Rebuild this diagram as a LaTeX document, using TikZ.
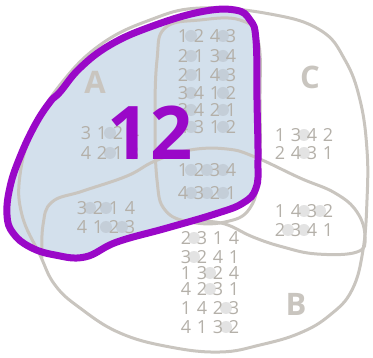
\documentclass[tikz,border=0pt]{standalone}
\usepackage{fontspec}
\setsansfont{Open Sans}
\usepackage{xcolor}
\usepackage{tikz}
\definecolor{penpurple}{RGB}{154,8,200}
\definecolor{paleblue}{RGB}{211,224,236}
\definecolor{pencil}{RGB}{201,197,191}
\definecolor{ink}{RGB}{180,176,169}
\definecolor{smudgeblue}{RGB}{196,206,216}
\definecolor{smudge}{RGB}{227,227,227}
\newcommand{\perm}[4]{\makebox[16pt]{#1}\makebox[16pt]{#2}\makebox[16pt]{#3}\makebox[16pt]{#4}}

\begin{document}
\begin{tikzpicture}[x=1pt,y=-1pt,
    outline/.style={pencil,line width=3pt,line cap=round},
    perm/.style={ink,inner sep=0pt,font=\sffamily\fontsize{18}{18}\selectfont},
    setname/.style={pencil,font=\sffamily\bfseries\fontsize{31}{31}\selectfont}]
    \useasboundingbox (0,0) rectangle (373,358);
    \fill[paleblue] plot[smooth cycle,tension=0.7] coordinates {(60,92) (80,68) (110,45) (150,27) (200,12) (235,10) (250,20) (256,40) (257,100) (258,160) (256,188) (243,203) (215,214) (167,228) (117,242) (85,257) (55,255) (30,247) (13,233) (7,215) (10,187) (20,157) (35,125) (50,102)};
    \draw[outline] plot[smooth cycle,tension=0.7] coordinates {(200,8) (270,14) (320,30) (345,60) (360,100) (367,150) (367,200) (363,250) (352,290) (330,315) (300,333) (260,345) (220,352) (170,347) (120,333) (80,308) (55,285) (40,255) (22,215) (20,175) (33,130) (60,85) (100,45) (150,20)};
    \draw[outline] plot[smooth cycle,tension=0.7] coordinates {(165,28) (200,20) (240,20) (258,40) (260,100) (259,170) (250,208) (225,222) (190,222) (165,210) (157,180) (155,120) (157,60)};
    \draw[outline] plot[smooth,tension=0.7] coordinates {(42,258) (43,225) (52,202) (83,191) (127,176) (155,161) (190,150) (227,149) (255,157) (300,178) (335,193) (357,212) (365,237) (357,252) (317,254) (283,247) (253,237) (225,224) (200,221)};
    \foreach \p/\y/\d [count=\i] in {1243/36/{-16,16},2134/56/{-16,16},2143/75/{-16,16},3412/93/{-16,16},3421/110/{-16,16},4312/127/{-16,16}} {
      \foreach \dx in \d \fill[smudgeblue] (207+\dx,\y) circle (6pt);
      \node[perm] (ac\i) at (207,\y) {\expandafter\perm\p};
    }
    \foreach \p/\y/\d [count=\i] in {1234/170/{-16,0,16},4321/193/{-16,0,16}} {
      \foreach \dx in \d \fill[smudgeblue] (207+\dx,\y) circle (6pt);
      \node[perm] (abc\i) at (207,\y) {\expandafter\perm\p};
    }
    \foreach \p/\y/\d [count=\i] in {3124/133/{0},4213/153/{0}} {
      \foreach \dx in \d \fill[smudgeblue] (110+\dx,\y) circle (6pt);
      \node[perm] (a\i) at (110,\y) {\expandafter\perm\p};
    }
    \foreach \p/\y/\d [count=\i] in {3214/208/{-16,0},4123/227/{0,16}} {
      \foreach \dx in \d \fill[smudgeblue] (106+\dx,\y) circle (6pt);
      \node[perm] (ab\i) at (106,\y) {\expandafter\perm\p};
    }
    \foreach \p/\y/\d [count=\i] in {1342/135/{0},2431/153/{0}} {
      \foreach \dx in \d \fill[smudge] (304+\dx,\y) circle (6pt);
      \node[perm] (c\i) at (304,\y) {\expandafter\perm\p};
    }
    \foreach \p/\y/\d [count=\i] in {1432/211/{0,16},2341/230/{-16,0}} {
      \foreach \dx in \d \fill[smudge] (304+\dx,\y) circle (6pt);
      \node[perm] (bc\i) at (304,\y) {\expandafter\perm\p};
    }
    \foreach \p/\y/\d [count=\i] in {2314/238/{-16},3241/257/{-16},1324/273/{0},4231/289/{0},1423/308/{16},4132/327/{16}} {
      \foreach \dx in \d \fill[smudge] (210+\dx,\y) circle (6pt);
      \node[perm] (b\i) at (210,\y) {\expandafter\perm\p};
    }
    \node[setname] (nameA) at (95,82) {A};
    \node[setname] (nameB) at (296,304) {B};
    \node[setname] (nameC) at (310,77) {C};
    \draw[penpurple,line width=7pt,line join=round] plot[smooth cycle,tension=0.7] coordinates {(60,92) (80,68) (110,45) (150,27) (200,12) (235,10) (250,20) (256,40) (257,100) (258,160) (256,188) (243,203) (215,214) (167,228) (117,242) (85,257) (55,255) (30,247) (13,233) (7,215) (10,187) (20,157) (35,125) (50,102)};
    \node[penpurple,inner sep=0pt,font=\sffamily\bfseries\fontsize{74}{74}\selectfont] (total) at (150,133) {12};
\end{tikzpicture}
\end{document}
